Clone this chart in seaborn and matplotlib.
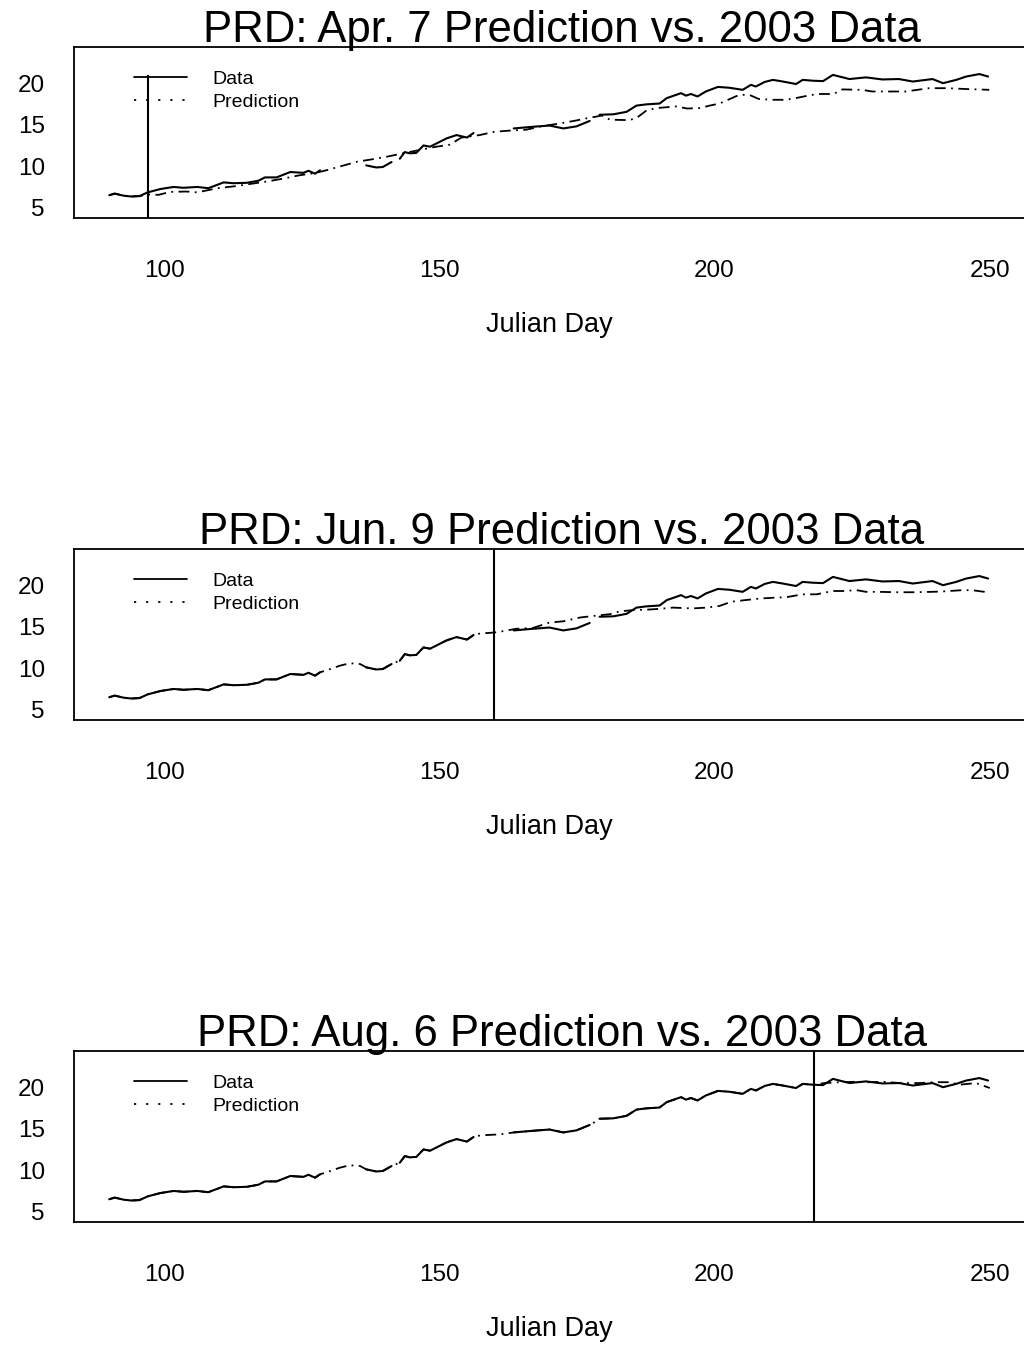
"""
PRD temperature forecasts vs. 2003 observations (three forecast dates)
"""

import numpy as np
import pandas as pd
import matplotlib
matplotlib.use("Agg")
import matplotlib.pyplot as plt
import seaborn as sns
from matplotlib.lines import Line2D

# observed 2003 series (NaN = missing days, line is broken there)
obs_day = [90, 91, 92.6, 94, 95.5, 97, 99.3, 101.7, 103.5, 106, 108, 110.8, 112.6, 115,
           117.1, 118.3, 120.4, 122.9, 125.3, 126.2, 127.4, 128.3, 129,
           136.7, 138.5, 139.7, 141.3, 142,
           142.8, 143.7, 144.6, 145.8, 147.1, 148.3, 149.5, 151.3, 153.1, 155, 156.2, 157,
           163.5, 167, 170, 172.5, 174.9, 177.3, 178,
           179.1, 181.6, 184, 185.8, 187.6, 190, 191.3, 193.9, 194.8, 195.7, 196.9, 198.4,
           200.6, 202.7, 205.1, 206.6, 207.5, 209.1, 210.6, 212.4, 214.8, 216, 217.8, 219.7,
           221.5, 224.5, 227.5, 230.5, 233.5, 236, 239.6, 241.5, 243.9, 245.7, 248.1, 249.7]
obs_val = [6.5, 6.7, 6.45, 6.35, 6.4, 6.85, 7.25, 7.5, 7.4, 7.5, 7.35, 8.05, 7.95, 8.0,
           8.25, 8.65, 8.65, 9.3, 9.2, 9.45, 9.1, 9.5, np.nan,
           10.1, 9.85, 9.9, 10.5, np.nan,
           10.9, 11.7, 11.55, 11.6, 12.5, 12.35, 12.75, 13.35, 13.75, 13.45, 14.0, np.nan,
           14.55, 14.75, 14.9, 14.55, 14.8, 15.45, np.nan,
           16.2, 16.25, 16.55, 17.3, 17.45, 17.55, 18.2, 18.8, 18.5, 18.7, 18.4, 19.0,
           19.55, 19.45, 19.2, 19.8, 19.6, 20.15, 20.4, 20.2, 19.9, 20.4, 20.3, 20.25,
           21.0, 20.5, 20.7, 20.45, 20.5, 20.2, 20.5, 20.0, 20.4, 20.8, 21.1, 20.8]

# values the prediction line shows where observations are missing
gap_day = [129.5, 131.9, 133.7, 135.6, 142.0, 157.5, 159.0, 160.5, 162.0, 178.2]
gap_val = [9.75, 10.3, 10.6, 10.5, 10.7, 14.2, 14.25, 14.3, 14.4, 15.8]

# forecasts issued on each date
apr7_day = [97, 99, 101, 104, 106, 109.7, 113, 116, 119, 122, 124.5, 127.2, 129.7, 132.1,
            135.1, 137.5, 140.5, 143, 146, 149, 151.9, 154, 157.3, 160, 163, 165.8, 168.5,
            171.9, 174.8, 177, 179.5, 181, 184.6, 186, 187.6, 189.4, 193, 195, 197.3, 199.1,
            200.9, 204.5, 206.3, 208, 210.6, 212.5, 214, 216.2, 218.6, 221.6, 223.2, 226.8,
            228.6, 232.9, 234.7, 239, 242, 245.6, 249.9]
apr7_val = [6.6, 6.55, 6.9, 6.95, 6.85, 7.35, 7.6, 7.9, 8.2, 8.55, 8.9, 9.15, 9.55, 10.0,
            10.55, 10.8, 11.15, 11.5, 11.9, 12.3, 12.6, 13.45, 13.75, 14.15, 14.3, 14.4, 14.8,
            15.15, 15.5, 15.8, 16.1, 15.6, 15.55, 15.9, 16.7, 17.0, 17.2, 16.95, 17.0, 17.3,
            17.55, 18.6, 18.6, 18.1, 18.0, 18.0, 18.1, 18.4, 18.7, 18.7, 19.25, 19.2,
            19.0, 19.0, 19.0, 19.4, 19.4, 19.3, 19.2]

jun9_day = [160, 161, 164, 167, 170, 172.5, 175.5, 178, 180.9, 182.8, 185.2, 187.6, 190,
            192.4, 196, 198.5, 200.9, 203, 205.5, 208.4, 211, 213, 216, 218.5, 221.5, 223.3,
            225.8, 227.5, 229.7, 233.5, 236, 239.6, 241.5, 245, 246.8, 249, 250]
jun9_val = [14.3, 14.4, 14.75, 14.85, 15.5, 15.65, 16.1, 16.3, 16.5, 16.85, 17.0, 17.05, 17.15,
            17.3, 17.2, 17.3, 17.5, 18.0, 18.2, 18.4, 18.5, 18.55, 18.9, 18.9, 19.3, 19.3,
            19.4, 19.2, 19.2, 19.15, 19.15, 19.2, 19.25, 19.4, 19.4, 19.2, 19.1]

aug6_day = [218, 220, 222.7, 225.8, 228, 230.7, 233.7, 237.3, 239.7, 242.7, 244.5, 247.5, 250]
aug6_val = [20.3, 20.5, 20.6, 20.65, 20.6, 20.65, 20.5, 20.5, 20.6, 20.6, 20.3, 20.5, 19.9]

titles = ["PRD: Apr. 7 Prediction vs. 2003 Data",
          "PRD: Jun. 9 Prediction vs. 2003 Data",
          "PRD: Aug. 6 Prediction vs. 2003 Data"]
cut_days = [97, 160, 218]
vline_tops = [21, None, None]
forecasts = [(apr7_day, apr7_val), (jun9_day, jun9_val), (aug6_day, aug6_val)]

sns.set_style("white")
plt.rcParams["font.family"] = ["Liberation Sans", "DejaVu Sans"]
plt.rcParams["text.color"] = "black"
plt.rcParams["axes.labelcolor"] = "black"

obs = pd.DataFrame({"day": obs_day, "value": obs_val})
obs["seg"] = obs["value"].isna().cumsum()
obs = obs.dropna()

hist = pd.concat([obs[["day", "value"]],
                  pd.DataFrame({"day": gap_day, "value": gap_val})]).sort_values("day")

fig = plt.figure(figsize=(10.24, 13.5), dpi=100)
bottoms = [1 - 218 / 1350, 1 - 720 / 1350, 1 - 1222 / 1350]
XLIM = (83.6, 256.4)
YLIM = (3.76, 24.36)

for i in range(3):
    ax = fig.add_axes([74 / 1024, bottoms[i], 951 / 1024, 171 / 1350])
    f_day, f_val = forecasts[i]
    pred = pd.concat([hist[hist["day"] < cut_days[i]],
                      pd.DataFrame({"day": f_day, "value": f_val})]).sort_values("day")

    sns.lineplot(data=pred, x="day", y="value", color="black", linewidth=1.3,
                 estimator=None, sort=False, ax=ax, linestyle=(0, (6, 3, 1, 3)))
    sns.lineplot(data=obs, x="day", y="value", units="seg", estimator=None,
                 color="black", linewidth=1.5, sort=False, ax=ax)

    ytop = vline_tops[i] if vline_tops[i] is not None else YLIM[1]
    ax.vlines(cut_days[i], YLIM[0], ytop, color="black", linewidth=1.5)

    ax.set_xlim(*XLIM)
    ax.set_ylim(*YLIM)
    ax.set_xticks([100, 150, 200, 250])
    ax.set_yticks([5, 10, 15, 20])
    ax.tick_params(axis="both", direction="out", length=3, width=1, color="black",
                   labelsize=17.5, labelcolor="black")
    ax.tick_params(axis="x", pad=27)
    ax.tick_params(axis="y", pad=18)
    ax.set_xlabel("Julian Day", fontsize=19.5, labelpad=22)
    ax.set_ylabel("")
    for sp in ax.spines.values():
        sp.set_visible(True)
        sp.set_color("black")
        sp.set_linewidth(1.3)

    ax.text(0.513, 1 + 5 / 171, titles[i], transform=ax.transAxes, ha="center",
            va="baseline", fontsize=31.5)

    handles = [Line2D([], [], color="black", linewidth=1.3),
               Line2D([], [], color="black", linewidth=1.3, linestyle=(0, (1.2, 5.5)))]
    ax.legend(handles, ["Data", "Prediction"], loc="upper left",
              bbox_to_anchor=(60 / 951, (218 - 70) / 171), frameon=False,
              fontsize=14, handlelength=2.75, handletextpad=1.3, labelspacing=0.3,
              borderpad=0, borderaxespad=0)

fig.savefig("out.png", dpi=100, facecolor="white")
